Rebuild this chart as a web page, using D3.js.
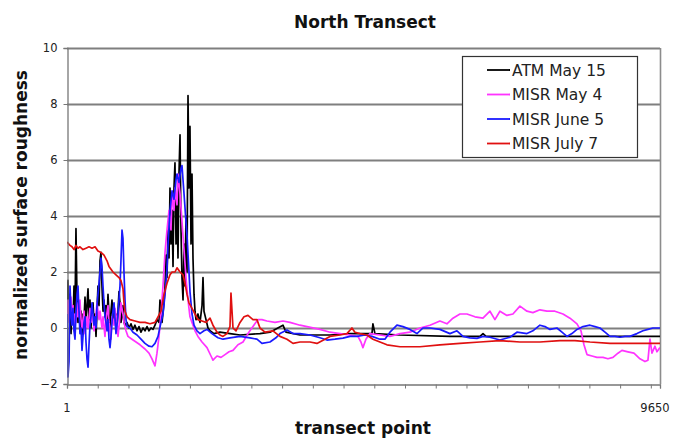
<!DOCTYPE html>
<html><head><meta charset="utf-8">
<script src="https://cdn.jsdelivr.net/npm/d3@7"></script>
<style>body{margin:0;background:#fff}svg{display:block}</style>
</head><body><svg id="c" width="687" height="441"></svg>
<script>
const title = "North Transect";
const xLabel = "transect point";
const yLabel = "normalized surface roughness";
const yTicks = [-2, 0, 2, 4, 6, 8, 10];
const xTickLabels = [1, 9650];
const xMinorStep = 500;
const seriesNames = ["ATM May 15", "MISR May 4", "MISR June 5", "MISR July 7"];
const seriesColors = ["#000000", "#ff33ff", "#1a1aff", "#e01010"];

// [transect point, value]
const atmMay15 = [[1,1.0],[17,1.7],[34,0.3],[50,1.2],[66,-0.2],[82,0.8],[99,0.2],[115,1.5],[131,0.5],[147,3.55],[164,1.0],[180,0.2],[196,0.9],[212,0.0],[229,0.6],[245,-0.4],[261,0.5],[278,0.3],[294,1.1],[310,0.2],[326,0.8],[343,1.4],[359,0.3],[375,1.0],[391,0.0],[408,0.6],[424,0.9],[440,0.2],[457,0.5],[473,-0.3],[489,0.6],[505,1.5],[522,0.8],[538,2.4],[554,2.7],[570,1.5],[587,0.6],[603,1.0],[619,0.4],[635,0.8],[652,0.2],[668,1.2],[684,0.5],[701,0.0],[717,0.6],[733,1.0],[749,0.3],[766,0.8],[782,0.2],[798,0.5],[814,0.0],[831,0.6],[847,1.3],[863,0.9],[879,0.2],[896,0.4],[912,0.8],[928,0.2],[945,0.1],[977,0.2],[1010,0.0],[1042,0.15],[1075,-0.05],[1107,0.1],[1140,-0.1],[1172,0.05],[1205,-0.15],[1238,0.0],[1270,-0.1],[1303,0.05],[1335,-0.1],[1368,0.0],[1400,-0.05],[1433,0.1],[1465,0.3],[1498,0.2],[1514,1.0],[1530,0.4],[1547,0.2],[1579,0.9],[1596,1.5],[1612,2.6],[1628,1.8],[1645,3.5],[1661,2.5],[1677,5.0],[1693,3.0],[1710,4.2],[1726,2.2],[1742,5.0],[1758,5.9],[1775,3.0],[1791,4.5],[1807,2.5],[1823,5.5],[1840,6.9],[1856,3.5],[1872,1.8],[1889,1.0],[1905,3.0],[1921,1.5],[1937,4.0],[1954,2.0],[1970,8.3],[1986,5.0],[2002,7.2],[2019,3.0],[2035,5.5],[2051,2.5],[2068,1.2],[2084,0.6],[2100,0.3],[2132,0.5],[2165,0.2],[2198,0.8],[2214,1.8],[2230,0.6],[2263,0.3],[2295,0.0],[2328,-0.1],[2393,-0.2],[2490,-0.15],[2653,-0.2],[2816,-0.25],[3141,-0.2],[3304,-0.15],[3515,0.1],[3564,-0.15],[3792,-0.25],[4280,-0.25],[4605,-0.2],[4963,-0.2],[4979,0.15],[5012,-0.2],[5419,-0.25],[6233,-0.3],[6721,-0.3],[6770,-0.2],[6819,-0.3],[7860,-0.3],[8674,-0.3],[9650,-0.3]];

const misrMay4 = [[1,0.3],[17,1.0],[34,0.2],[50,0.7],[66,1.1],[82,0.3],[99,0.8],[115,-0.1],[131,0.5],[147,0.2],[164,0.9],[180,0.4],[212,1.0],[229,0.3],[245,0.0],[278,0.6],[294,-0.2],[326,0.4],[343,0.0],[375,0.7],[391,0.2],[424,0.5],[440,-0.1],[473,0.5],[489,0.9],[522,0.3],[538,0.6],[570,0.0],[587,0.4],[619,-0.3],[635,0.3],[668,0.8],[684,0.2],[717,-0.4],[733,0.4],[766,0.1],[782,0.7],[814,0.2],[831,-0.3],[863,0.4],[879,0.9],[912,0.5],[928,0.2],[961,-0.1],[993,-0.3],[1058,-0.4],[1124,-0.5],[1189,-0.6],[1270,-0.75],[1335,-0.9],[1384,-1.1],[1433,-1.35],[1465,-0.9],[1498,-0.3],[1530,0.5],[1563,1.5],[1596,2.7],[1628,3.5],[1661,4.2],[1693,3.5],[1710,4.8],[1742,4.2],[1758,5.0],[1791,4.4],[1807,5.5],[1840,4.8],[1872,3.8],[1905,2.8],[1937,1.8],[1970,1.0],[2002,0.4],[2035,0.2],[2084,-0.1],[2132,-0.3],[2198,-0.5],[2279,-0.7],[2344,-1.0],[2376,-1.15],[2442,-1.0],[2507,-1.05],[2572,-0.95],[2637,-0.85],[2702,-0.8],[2783,-0.6],[2865,-0.5],[2946,-0.2],[3027,0.05],[3108,0.3],[3173,0.3],[3255,0.25],[3385,0.2],[3515,0.25],[3629,0.2],[3792,0.1],[3906,0.05],[4117,-0.05],[4280,-0.15],[4443,-0.2],[4605,-0.25],[4735,-0.3],[4784,-0.5],[4816,-0.7],[4865,-0.4],[4930,-0.2],[5093,-0.25],[5256,-0.3],[5419,-0.2],[5581,-0.15],[5744,0.0],[5907,0.1],[6069,0.25],[6183,0.15],[6281,0.35],[6395,0.5],[6509,0.5],[6639,0.4],[6769,0.35],[6883,0.6],[6964,0.3],[7045,0.6],[7159,0.45],[7257,0.5],[7371,0.78],[7485,0.6],[7582,0.55],[7696,0.65],[7810,0.6],[7940,0.6],[8071,0.5],[8185,0.35],[8299,0.15],[8364,-0.1],[8413,-0.6],[8462,-0.95],[8543,-1.0],[8624,-1.05],[8722,-1.05],[8803,-1.1],[8885,-1.05],[8966,-0.9],[9031,-0.8],[9128,-0.85],[9226,-0.9],[9324,-1.1],[9405,-1.2],[9454,-1.15],[9487,-0.4],[9519,-0.9],[9568,-0.65],[9600,-0.85],[9650,-0.7]];

const misrJune5 = [[1,0.5],[17,-1.75],[34,-1.2],[50,1.5],[66,0.6],[82,0.1],[99,0.7],[115,-0.1],[131,-0.4],[147,0.5],[164,1.2],[180,1.5],[196,0.6],[212,-0.2],[229,0.0],[245,-0.8],[261,-0.3],[278,0.2],[294,0.4],[310,-0.5],[326,-1.1],[343,-1.4],[359,-0.6],[375,0.1],[391,0.4],[408,0.9],[424,0.5],[440,0.1],[457,0.4],[473,0.0],[489,0.8],[505,1.2],[522,1.6],[538,2.0],[554,2.5],[570,2.2],[587,1.5],[603,0.9],[619,0.4],[635,0.2],[652,-0.1],[668,0.3],[684,-0.4],[701,-0.7],[717,-0.3],[733,0.2],[749,0.6],[766,0.9],[782,0.3],[798,-0.2],[814,0.1],[831,0.5],[847,1.0],[863,1.5],[879,2.4],[896,3.5],[912,3.2],[928,2.0],[945,1.0],[961,0.3],[977,0.05],[1026,0.0],[1075,-0.15],[1140,-0.25],[1205,-0.4],[1270,-0.55],[1335,-0.65],[1384,-0.67],[1433,-0.55],[1482,-0.3],[1530,0.2],[1563,0.5],[1596,1.2],[1628,2.1],[1645,3.0],[1677,4.2],[1710,4.9],[1742,4.6],[1775,5.3],[1791,5.5],[1823,5.2],[1856,5.7],[1872,5.8],[1905,4.8],[1937,3.8],[1954,3.3],[1986,2.0],[2002,1.3],[2035,0.5],[2068,0.1],[2116,-0.1],[2165,-0.2],[2230,-0.1],[2279,-0.05],[2360,-0.2],[2458,-0.35],[2539,-0.4],[2653,-0.35],[2816,-0.3],[2978,-0.35],[3092,-0.4],[3173,-0.55],[3304,-0.5],[3401,-0.35],[3466,-0.2],[3580,-0.07],[3678,-0.2],[3792,-0.2],[3955,-0.25],[4117,-0.35],[4231,-0.43],[4361,-0.4],[4491,-0.36],[4605,-0.3],[4719,-0.3],[4849,-0.25],[4963,-0.3],[5093,-0.4],[5174,-0.4],[5256,-0.15],[5370,0.1],[5468,0.05],[5581,-0.05],[5695,-0.2],[5793,0.0],[5907,0.0],[6069,-0.05],[6232,-0.2],[6346,-0.1],[6444,-0.3],[6558,-0.35],[6672,-0.37],[6770,-0.3],[6883,-0.33],[7045,-0.43],[7208,-0.33],[7322,-0.15],[7485,-0.2],[7582,-0.1],[7696,0.1],[7778,0.05],[7859,-0.05],[7973,0.0],[8055,-0.15],[8136,-0.3],[8217,-0.2],[8299,-0.05],[8397,0.05],[8511,0.1],[8592,0.05],[8673,0.0],[8755,-0.15],[8836,-0.3],[8917,-0.3],[8999,-0.33],[9080,-0.3],[9161,-0.3],[9275,-0.2],[9373,-0.1],[9454,-0.05],[9535,0.0],[9650,0.0]];

const misrJuly7 = [[1,3.07],[50,2.95],[82,2.9],[115,2.8],[147,2.95],[180,2.85],[212,2.9],[261,2.8],[310,2.85],[359,2.9],[408,2.85],[457,2.9],[505,2.75],[554,2.7],[603,2.6],[652,2.4],[684,2.2],[717,2.1],[749,2.0],[798,1.9],[847,1.8],[879,1.7],[912,1.4],[928,0.9],[945,0.6],[977,0.4],[1026,0.3],[1107,0.25],[1189,0.2],[1270,0.2],[1351,0.15],[1433,0.2],[1482,0.4],[1530,0.6],[1579,1.2],[1628,1.6],[1677,1.9],[1710,2.0],[1758,2.0],[1791,2.15],[1840,2.0],[1889,1.9],[1921,1.6],[1954,1.2],[1986,0.9],[2035,0.7],[2084,0.5],[2132,0.3],[2198,0.25],[2263,0.2],[2328,0.35],[2376,0.1],[2442,-0.15],[2490,-0.25],[2539,-0.3],[2604,-0.2],[2653,0.05],[2669,1.25],[2702,0.0],[2751,-0.1],[2816,0.2],[2881,0.4],[2946,0.45],[3027,0.3],[3092,0.3],[3141,0.0],[3222,-0.15],[3352,-0.1],[3466,-0.3],[3580,-0.4],[3678,-0.55],[3792,-0.5],[3955,-0.5],[4068,-0.55],[4198,-0.4],[4280,-0.3],[4443,-0.25],[4556,-0.2],[4637,0.0],[4686,-0.15],[4768,-0.2],[4881,-0.25],[4979,-0.4],[5093,-0.5],[5207,-0.6],[5419,-0.67],[5744,-0.67],[6069,-0.6],[6395,-0.55],[6721,-0.5],[7045,-0.45],[7371,-0.5],[7696,-0.5],[8022,-0.45],[8266,-0.45],[8511,-0.5],[8836,-0.55],[9243,-0.55],[9650,-0.55]];

const allSeries = [atmMay15, misrMay4, misrJune5, misrJuly7];

const svg = d3.select("#c");
const W = 687, H = 441;
const m = {left: 67, right: 27, top: 48, bottom: 57};
const x = d3.scaleLinear().domain([1, 9650]).range([m.left, W - m.right]);
const y = d3.scaleLinear().domain([-2, 10]).range([H - m.bottom, m.top]);
const font = "'DejaVu Sans', Verdana, sans-serif";

// gridlines
svg.append("g").selectAll("line").data(yTicks.filter(d => d > -2)).join("line")
  .attr("x1", m.left).attr("x2", W - m.right)
  .attr("y1", d => y(d) + 0.5).attr("y2", d => y(d) + 0.5)
  .attr("stroke", "#7f7f7f").attr("stroke-width", 1.8);
// right border
svg.append("line").attr("x1", W - m.right + 0.5).attr("x2", W - m.right + 0.5)
  .attr("y1", y(10)).attr("y2", y(-2)).attr("stroke", "#8c8c8c").attr("stroke-width", 1.6);

// lines
const line = d3.line().x(d => x(d[0])).y(d => y(d[1]));
svg.append("clipPath").attr("id", "pc").append("rect")
  .attr("x", m.left).attr("y", m.top).attr("width", W - m.left - m.right).attr("height", H - m.top - m.bottom);
[0, 1, 2, 3].forEach(i => {
  svg.append("path").datum(allSeries[i]).attr("d", line)
    .attr("fill", "none").attr("stroke", seriesColors[i])
    .attr("stroke-width", 1.7).attr("stroke-linejoin", "round")
    .attr("clip-path", "url(#pc)");
});

// y axis
const yAxis = d3.axisLeft(y).tickValues(yTicks).tickSize(4).tickPadding(6).tickFormat(d3.format("d"));
const gy = svg.append("g").attr("transform", `translate(${m.left + 0.5},0)`).call(yAxis);
gy.select(".domain").attr("stroke", "#777").attr("stroke-width", 1.3);
gy.selectAll(".tick line").attr("stroke", "#777");
gy.selectAll("text").attr("font-family", font).attr("font-size", 11.5).attr("fill", "#222");

// x axis
const minorTicks = d3.range(1, 9650, xMinorStep).concat([9650]);
const xAxis = d3.axisBottom(x).tickValues(minorTicks).tickSize(4).tickFormat("");
const gx = svg.append("g").attr("transform", `translate(0,${y(-2) + 0.5})`).call(xAxis);
gx.select(".domain").attr("stroke", "#777").attr("stroke-width", 1.3);
gx.selectAll(".tick line").attr("stroke", "#777");
svg.append("g").selectAll("text").data(xTickLabels).join("text")
  .attr("x", d => x(d) + (d === 9650 ? -5 : 0)).attr("y", y(-2) + 28)
  .attr("text-anchor", "middle").attr("font-family", font).attr("font-size", 11.5).attr("fill", "#222")
  .text(d => d);

// titles
svg.append("text").attr("x", 365).attr("y", 28).attr("text-anchor", "middle")
  .attr("font-family", font).attr("font-weight", "bold").attr("font-size", 17).attr("fill", "#111").text(title);
svg.append("text").attr("x", 363).attr("y", 434).attr("text-anchor", "middle")
  .attr("font-family", font).attr("font-weight", "bold").attr("font-size", 17).attr("fill", "#111").text(xLabel);
svg.append("text").attr("transform", `translate(27,215) rotate(-90)`).attr("text-anchor", "middle")
  .attr("font-family", font).attr("font-weight", "bold").attr("font-size", 17).attr("fill", "#111").text(yLabel);

// legend
const lg = svg.append("g").attr("transform", "translate(462,56)");
lg.append("rect").attr("x", 0.5).attr("y", 0.5).attr("width", 175).attr("height", 101)
  .attr("fill", "#fff").attr("stroke", "#333").attr("stroke-width", 1.2);
seriesNames.forEach((n, i) => {
  const yy = 14 + i * 24.5;
  lg.append("line").attr("x1", 25).attr("x2", 48).attr("y1", yy).attr("y2", yy)
    .attr("stroke", seriesColors[i]).attr("stroke-width", 1.8);
  lg.append("text").attr("x", 50).attr("y", yy + 5.5).attr("font-family", font)
    .attr("font-size", 15.5).attr("fill", "#222").text(n);
});
</script></body></html>
